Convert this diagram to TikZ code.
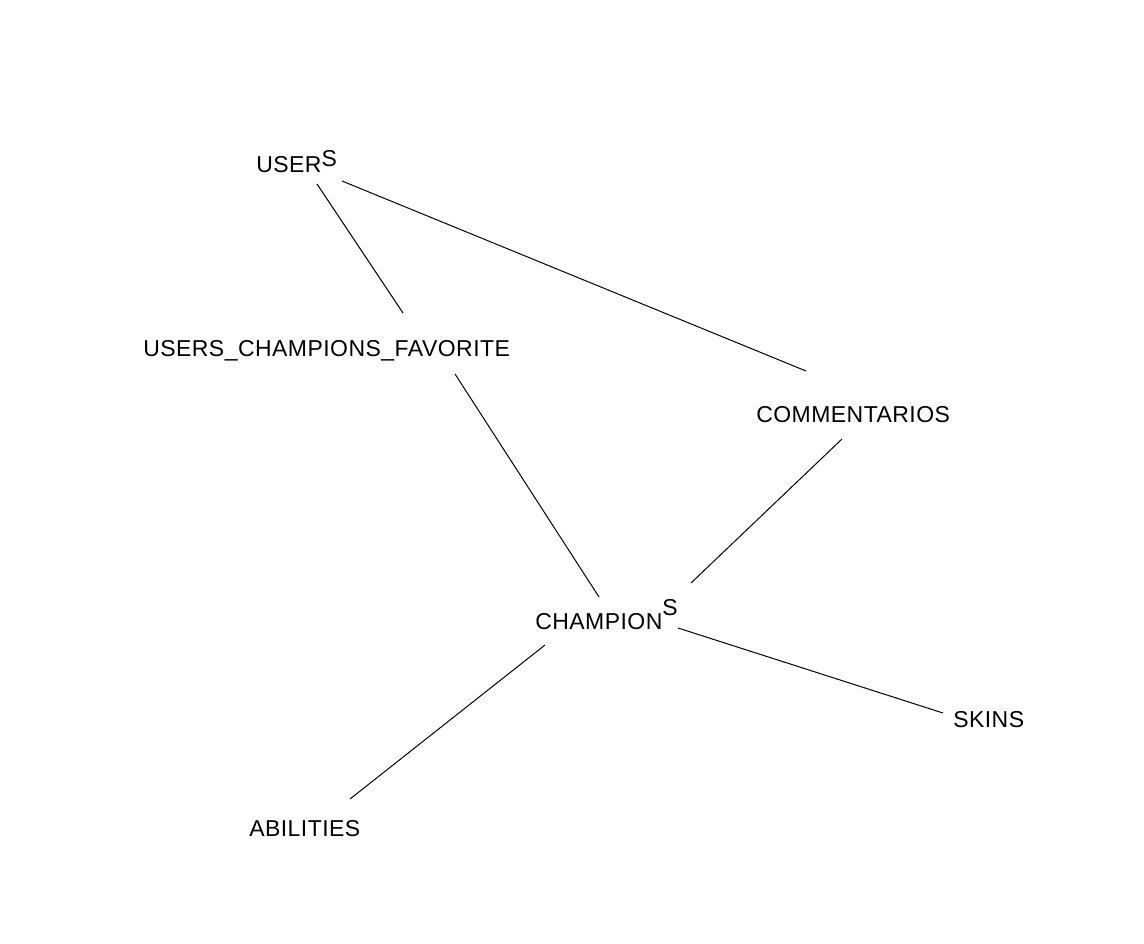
\documentclass[tikz,border=0pt]{standalone}
\usepackage{fontspec}
\setmainfont{Liberation Sans}[LetterSpace=2]
\begin{document}
\begin{tikzpicture}[x=0.75pt,y=-0.75pt,
  table/.style={anchor=base west,inner sep=0pt,font=\fontsize{17.25}{20}\selectfont},
  link/.style={line width=0.75pt}]
  \useasboundingbox (0,0) rectangle (1144,944);
  \node[table] (users) at (256,173) {USER\raisebox{4.5pt}{S}};
  \node[table] (favorite) at (143,357) {USERS\_CHAMPIONS\_FAVORITE};
  \node[table] (comments) at (756,422) {COMMENTARIOS};
  \node[table] (champions) at (535,629) {CHAMPION\raisebox{10.5pt}{S}};
  \node[table] (skins) at (953,727) {SKINS};
  \node[table] (abilities) at (249,836) {ABILITIES};
  \draw[link] ([shift={(61,11)}]users.base west) -- ([shift={(260,-44)}]favorite.base west);
  \draw[link] ([shift={(86,8)}]users.base west) -- ([shift={(50,-51)}]comments.base west);
  \draw[link] ([shift={(312,17)}]favorite.base west) -- ([shift={(64,-32)}]champions.base west);
  \draw[link] ([shift={(86,17)}]comments.base west) -- ([shift={(156,-46)}]champions.base west);
  \draw[link] ([shift={(143,-1)}]champions.base west) -- ([shift={(-10,-14)}]skins.base west);
  \draw[link] ([shift={(10,16)}]champions.base west) -- ([shift={(101,-37)}]abilities.base west);
\end{tikzpicture}
\end{document}
